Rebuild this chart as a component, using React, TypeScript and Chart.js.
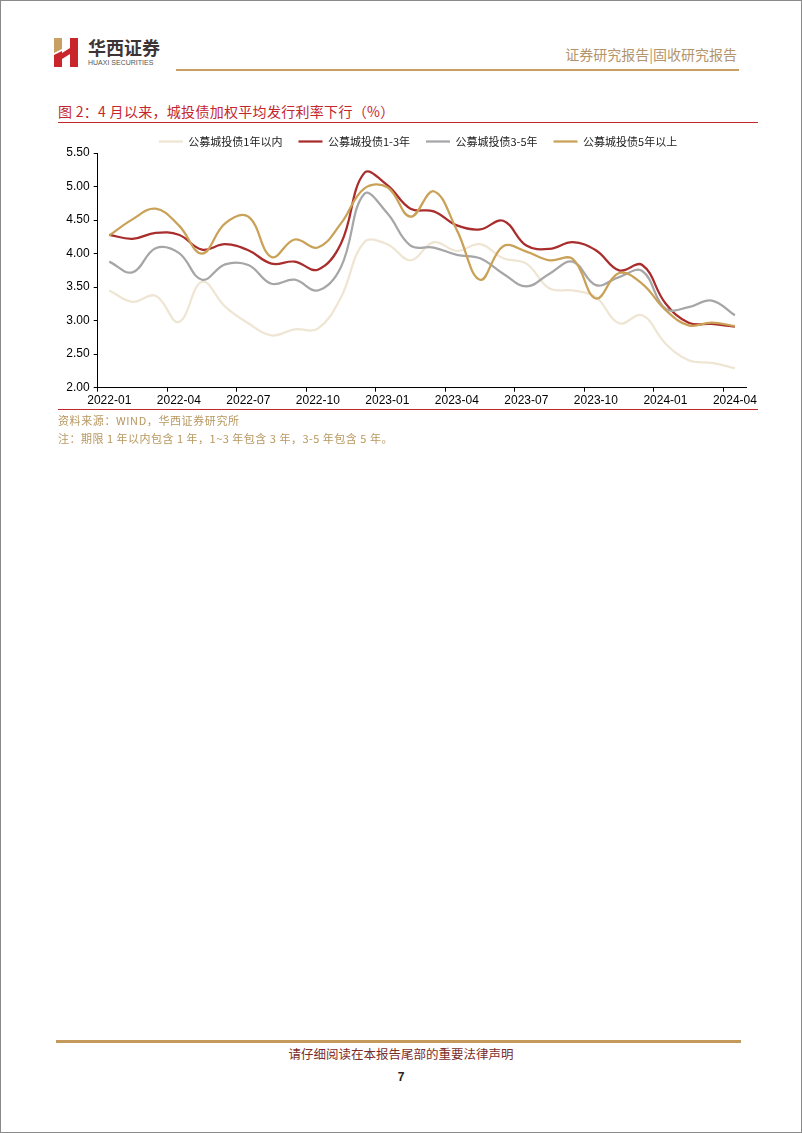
import React, { useEffect, useRef } from 'react';
import { Chart, registerables } from 'chart.js';

Chart.register(...registerables);

const months = [
  '2022-01', '2022-02', '2022-03', '2022-04', '2022-05', '2022-06', '2022-07', '2022-08', '2022-09', '2022-10', '2022-11', '2022-12',
  '2023-01', '2023-02', '2023-03', '2023-04', '2023-05', '2023-06', '2023-07', '2023-08', '2023-09', '2023-10', '2023-11', '2023-12',
  '2024-01', '2024-02', '2024-03', '2024-04',
];

const seriesNames = ['公募城投债1年以内', '公募城投债1-3年', '公募城投债3-5年', '公募城投债5年以上'];

const within1y = [3.45, 3.28, 3.37, 2.98, 3.58, 3.21, 2.96, 2.78, 2.87, 2.88, 3.35, 4.17, 4.14, 3.9, 4.17, 4.04, 4.14, 3.93, 3.85, 3.48, 3.45, 3.35, 2.96, 3.08, 2.66, 2.41, 2.37, 2.29];
const y1to3 = [4.28, 4.22, 4.31, 4.28, 4.06, 4.14, 4.05, 3.85, 3.88, 3.76, 4.15, 5.2, 5.02, 4.67, 4.63, 4.42, 4.36, 4.49, 4.12, 4.07, 4.17, 4.05, 3.75, 3.83, 3.26, 2.97, 2.95, 2.91];
const y3to5 = [3.88, 3.72, 4.08, 4.01, 3.61, 3.84, 3.83, 3.55, 3.61, 3.45, 3.8, 4.89, 4.6, 4.12, 4.09, 3.98, 3.93, 3.7, 3.51, 3.7, 3.88, 3.53, 3.65, 3.74, 3.18, 3.2, 3.3, 3.08];
const above5y = [4.27, 4.51, 4.67, 4.42, 4.0, 4.45, 4.55, 3.95, 4.21, 4.09, 4.45, 4.97, 4.99, 4.55, 4.93, 4.35, 3.61, 4.11, 4.03, 3.9, 3.92, 3.33, 3.71, 3.55, 3.16, 2.93, 2.97, 2.92];

const seriesColors = ['#EFE5D3', '#A92D2D', '#A6A6A8', '#C9A157'];

const yMin = 2;
const yMax = 5.5;
const yStep = 0.5;
const labelEvery = 3;

const latin = '"Liberation Sans", Arial, "Noto Sans CJK SC", sans-serif';
const cjk = '"Noto Sans CJK SC", "Liberation Sans", sans-serif';

const legendPatch = {
  id: 'legendPatch',
  beforeLayout(chart: any) {
    const lg = chart.legend;
    if (lg && !lg._patched) {
      const orig = lg.fit;
      lg.fit = function () {
        orig.call(this);
        this.height -= 4;
      };
      lg._patched = true;
    }
  },
  afterLayout(chart: any) {
    const lg = chart.legend;
    if (lg) {
      lg.left = 0;
      lg.right = chart.width;
      lg.width = chart.width;
    }
  },
};

function RateChart() {
  const ref = useRef<HTMLCanvasElement | null>(null);
  useEffect(() => {
    if (!ref.current) return;
    const seriesData = [within1y, y1to3, y3to5, above5y];
    const chart = new Chart(ref.current, {
      type: 'line',
      data: {
        labels: months,
        datasets: seriesData.map((d, i) => ({
          label: seriesNames[i],
          data: d,
          borderColor: seriesColors[i],
          backgroundColor: seriesColors[i],
          borderWidth: 2.25,
          pointRadius: 0,
          tension: 0.4,
          fill: false,
          order: 3 - i,
        })),
      },
      options: {
        responsive: false,
        animation: false,
        events: [],
        layout: { padding: { left: 0, right: 31.5, top: 0, bottom: 0 } },
        plugins: {
          tooltip: { enabled: false },
          legend: {
            position: 'top',
            align: 'center',
            labels: {
              usePointStyle: true,
              pointStyle: 'line',
              pointStyleWidth: 24,
              padding: 16,
              color: '#222',
              font: { family: cjk, size: 11 },
              sort: (a: any, b: any) => a.datasetIndex - b.datasetIndex,
            },
          },
        },
        scales: {
          x: {
            offset: true,
            grid: {
              offset: true,
              drawOnChartArea: false,
              drawTicks: true,
              tickLength: 4,
              color: (c: any) => (c.index % labelEvery === 0 ? '#000' : 'rgba(0,0,0,0)'),
            },
            border: { display: true, color: '#000', width: 1 },
            ticks: {
              autoSkip: false,
              maxRotation: 0,
              minRotation: 0,
              padding: 2,
              color: '#000',
              font: { family: latin, size: 12 },
              callback: (_v: any, i: number) => (i % labelEvery === 0 ? months[i] : ''),
            },
            afterFit: (s: any) => {
              s.height = 32.3;
            },
          },
          y: {
            min: yMin,
            max: yMax,
            grid: { drawOnChartArea: false, drawTicks: true, tickLength: 4, color: '#000' },
            border: { display: true, color: '#000', width: 1 },
            ticks: {
              stepSize: yStep,
              padding: 4,
              color: '#000',
              font: { family: latin, size: 12 },
              callback: (v: any) => Number(v).toFixed(2),
            },
            afterFit: (s: any) => {
              s.width = 39.7;
            },
          },
        },
      },
      plugins: [legendPatch],
    } as any);
    return () => chart.destroy();
  }, []);
  return (
    <canvas
      ref={ref}
      width={720}
      height={300}
      style={{ position: 'absolute', left: 57, top: 119, width: 720, height: 300 }}
    />
  );
}

export default function App() {
  useEffect(() => {
    document.body.style.margin = '0';
  }, []);
  const abs = (s: React.CSSProperties): React.CSSProperties => ({ position: 'absolute', ...s });
  return (
    <div
      style={{
        position: 'absolute',
        left: 0,
        top: 0,
        width: 802,
        height: 1133,
        background: '#fff',
        boxSizing: 'border-box',
        border: '1px solid #8a8a8a',
        overflow: 'hidden',
      }}
    >
      <svg style={abs({ left: 52, top: 36 })} width={28} height={32} viewBox="52 36 28 32">
        <polygon points="53,37 61,37 61,48 53,52" fill="#C9A063" />
        <polygon points="53,54 61,50 61,66 53,66" fill="#C8262C" />
        <polygon points="61,52 69,47 69,53 61,58" fill="#C8262C" />
        <rect x={69} y={37} width={8} height={29} fill="#C8262C" />
      </svg>
      <div style={abs({ left: 87, top: 36, fontFamily: cjk, fontWeight: 700, fontSize: 18, lineHeight: '20px', color: '#3d3535', whiteSpace: 'nowrap' })}>
        华西证券
      </div>
      <div style={abs({ left: 87, top: 58, fontFamily: latin, fontSize: 7, lineHeight: '8px', color: '#555', whiteSpace: 'nowrap' })}>
        HUAXI SECURITIES
      </div>
      <div style={abs({ right: 64, top: 45, fontFamily: cjk, fontSize: 14, lineHeight: '16px', color: '#B4946A', whiteSpace: 'nowrap' })}>
        证券研究报告|固收研究报告
      </div>
      <div style={abs({ left: 175, top: 68, width: 563, height: 2, background: '#C9A063' })} />
      <div style={abs({ left: 57, top: 102, fontFamily: cjk, fontSize: 14, lineHeight: '16px', letterSpacing: 0.3, color: '#C4262E', whiteSpace: 'nowrap' })}>
        图 2：4 月以来，城投债加权平均发行利率下行（%）
      </div>
      <div style={abs({ left: 57, top: 121, width: 700, height: 1, background: '#C4262E' })} />
      <RateChart />
      <div style={abs({ left: 57, top: 408, width: 700, height: 1, background: '#C4262E' })} />
      <div style={abs({ left: 57, top: 412, fontFamily: cjk, fontSize: 11, lineHeight: '14px', letterSpacing: 0.6, color: '#B8975F', whiteSpace: 'nowrap' })}>
        资料来源：WIND，华西证券研究所
      </div>
      <div style={abs({ left: 57, top: 430, fontFamily: cjk, fontSize: 11, lineHeight: '14px', letterSpacing: 0.5, color: '#B8975F', whiteSpace: 'pre' })}>
        注：期限 1 年以内包含 1 年，1~3 年包含 3 年，3-5 年包含 5 年。
      </div>
      <div style={abs({ left: 55, top: 1039, width: 685, height: 3, background: '#C49A5C' })} />
      <div style={abs({ left: 0, width: 800, top: 1045, textAlign: 'center', fontFamily: cjk, fontSize: 12.5, lineHeight: '16px', color: '#7A2C2C', whiteSpace: 'nowrap' })}>
        请仔细阅读在本报告尾部的重要法律声明
      </div>
      <div style={abs({ left: 0, width: 800, top: 1068, textAlign: 'center', fontFamily: latin, fontWeight: 700, fontSize: 12, lineHeight: '16px', color: '#222' })}>
        7
      </div>
    </div>
  );
}
